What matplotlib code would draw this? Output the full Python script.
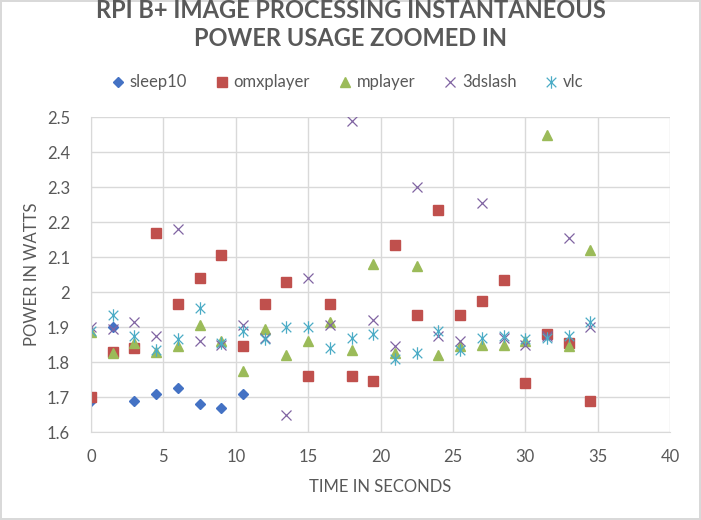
import numpy as np
import matplotlib
matplotlib.use("Agg")
import matplotlib.pyplot as plt
from matplotlib.path import Path

# -----------------------------
# Data
# -----------------------------
time_sleep = [0, 1.5, 3, 4.5, 6, 7.5, 9, 10.5]
sleep10 = [1.69, 1.90, 1.69, 1.71, 1.725, 1.68, 1.67, 1.71]

time_all = [0, 1.5, 3, 4.5, 6, 7.5, 9, 10.5, 12, 13.5, 15, 16.5,
            18, 19.5, 21, 22.5, 24, 25.5, 27, 28.5, 30, 31.5, 33, 34.5]
omxplayer = [1.70, 1.83, 1.84, 2.17, 1.965, 2.04, 2.105, 1.845, 1.965, 2.03, 1.76, 1.965,
             1.76, 1.745, 2.135, 1.935, 2.235, 1.935, 1.975, 2.035, 1.74, 1.88, 1.855, 1.69]
mplayer = [1.885, 1.825, 1.855, 1.83, 1.845, 1.905, 1.86, 1.775, 1.895, 1.82, 1.86, 1.915,
           1.835, 2.08, 1.825, 2.075, 1.82, 1.845, 1.85, 1.85, 1.86, 2.45, 1.845, 2.12]
dslash = [1.90, 1.895, 1.915, 1.875, 2.18, 1.86, 1.85, 1.905, 1.87, 1.65, 2.04, 1.905,
          2.49, 1.92, 1.845, 2.30, 1.875, 1.86, 2.255, 1.87, 1.85, 1.875, 2.155, 1.90]
vlc = [1.89, 1.935, 1.875, 1.835, 1.865, 1.955, 1.855, 1.89, 1.865, 1.90, 1.90, 1.84,
       1.87, 1.88, 1.81, 1.825, 1.89, 1.835, 1.87, 1.875, 1.865, 1.87, 1.875, 1.915]

text_color = "#595959"
grid_color = "#D9D9D9"
plt.rcParams["font.family"] = ["Lato", "DejaVu Sans"]

# Excel-style star marker: an x with a vertical bar through it
star = Path(
    [(-1, -1), (1, 1), (-1, 1), (1, -1), (0, -1.3), (0, 1.3)],
    [Path.MOVETO, Path.LINETO, Path.MOVETO, Path.LINETO, Path.MOVETO, Path.LINETO],
)

# -----------------------------
# Figure
# -----------------------------
fig = plt.figure(figsize=(7.01, 5.20), dpi=100)
fig.patch.set_edgecolor("#D9D9D9")
fig.patch.set_linewidth(1.5)
ax = fig.add_axes([0.1298, 0.1692, 0.826, 0.6058])

ax.plot(time_sleep, sleep10, linestyle="none", marker="D", markersize=5.5,
        color="#4472C4", label="sleep10")
ax.plot(time_all, omxplayer, linestyle="none", marker="s", markersize=6.5,
        color="#C0504D", label="omxplayer")
ax.plot(time_all, mplayer, linestyle="none", marker="^", markersize=7.5,
        color="#9BBB59", label="mplayer")
ax.plot(time_all, dslash, linestyle="none", marker="x", markersize=7,
        markeredgewidth=0.9, color="#8064A2", label="3dslash")
ax.plot(time_all, vlc, linestyle="none", marker=star, markersize=9,
        markeredgewidth=0.9, color="#4BACC6", label="vlc")

ax.set_xlim(0, 40)
ax.set_ylim(1.6, 2.5)
ax.set_xticks(np.arange(0, 41, 5))
ax.set_yticks(np.arange(1.6, 2.51, 0.1))
ax.set_yticklabels(["1.6", "1.7", "1.8", "1.9", "2", "2.1", "2.2", "2.3", "2.4", "2.5"])

ax.grid(True, color=grid_color, linewidth=1)
ax.set_axisbelow(True)
for side in ["top", "right"]:
    ax.spines[side].set_visible(False)
for side in ["left", "bottom"]:
    ax.spines[side].set_color(grid_color)
ax.tick_params(length=0, labelsize=12, colors=text_color)
ax.tick_params(axis="x", pad=12)
ax.tick_params(axis="y", pad=15)

ax.set_xlabel("TIME IN SECONDS", fontsize=12, color=text_color, labelpad=10)
ax.set_ylabel("POWER IN WATTS", fontsize=12, color=text_color, labelpad=5)

fig.text(0.5, 1 - 11 / 520, "RPI B+ IMAGE PROCESSING INSTANTANEOUS",
         ha="center", va="center", fontsize=17, fontweight="bold", color=text_color)
fig.text(0.5, 1 - 39 / 520, "POWER USAGE ZOOMED IN",
         ha="center", va="center", fontsize=17, fontweight="bold", color=text_color)

ax.legend(loc="center", bbox_to_anchor=(0.44, 1.11), ncol=5, frameon=False,
          fontsize=12, labelcolor=text_color, handletextpad=0.1, columnspacing=1.5,
          handlelength=1.2)

fig.savefig("out.png", dpi=100)
